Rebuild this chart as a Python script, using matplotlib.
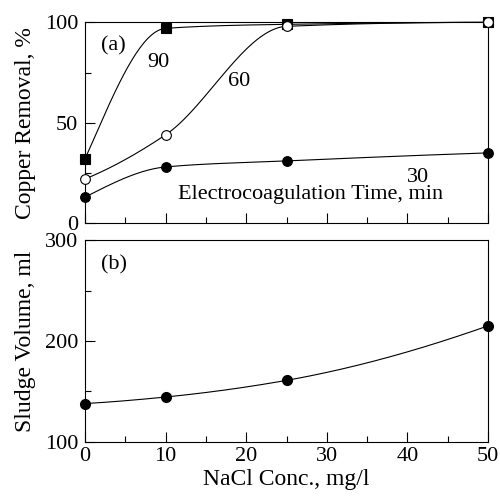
import numpy as np
import matplotlib
matplotlib.use("Agg")
import matplotlib.pyplot as plt
from matplotlib.ticker import MultipleLocator

plt.rcParams["font.family"] = ["Liberation Serif", "DejaVu Serif"]

# ── data ──────────────────────────────────────────────────
nacl = [0, 10, 25, 50]
cu_90 = [32, 97, 99, 100]
cu_60 = [22, 44, 98, 100]
cu_30 = [13, 28, 31, 35]
sludge = [138, 144.5, 161, 215]


def smooth(xs, ys, n=200):
    """monotone cubic (PCHIP) curve through the points"""
    xs = np.asarray(xs, float); ys = np.asarray(ys, float)
    h = np.diff(xs); dlt = np.diff(ys) / h
    m = np.zeros_like(ys)
    for i in range(1, len(xs) - 1):
        if dlt[i - 1] * dlt[i] > 0:
            w1 = 2 * h[i] + h[i - 1]; w2 = h[i] + 2 * h[i - 1]
            m[i] = (w1 + w2) / (w1 / dlt[i - 1] + w2 / dlt[i])
    m[0] = ((2 * h[0] + h[1]) * dlt[0] - h[0] * dlt[1]) / (h[0] + h[1])
    if np.sign(m[0]) != np.sign(dlt[0]):
        m[0] = 0
    m[-1] = ((2 * h[-1] + h[-2]) * dlt[-1] - h[-1] * dlt[-2]) / (h[-1] + h[-2])
    if np.sign(m[-1]) != np.sign(dlt[-1]):
        m[-1] = 0
    xx = np.linspace(xs[0], xs[-1], n)
    yy = np.empty_like(xx)
    for j, x in enumerate(xx):
        i = min(np.searchsorted(xs, x, side="right") - 1, len(xs) - 2)
        t = (x - xs[i]) / h[i]
        h00 = 2 * t**3 - 3 * t**2 + 1; h10 = t**3 - 2 * t**2 + t
        h01 = -2 * t**3 + 3 * t**2; h11 = t**3 - t**2
        yy[j] = h00 * ys[i] + h10 * h[i] * m[i] + h01 * ys[i + 1] + h11 * h[i] * m[i + 1]
    return xx, yy


fig = plt.figure(figsize=(5.0, 4.96), dpi=100)
ax1 = fig.add_axes([0.17, 0.550, 0.806, 0.405])
ax2 = fig.add_axes([0.17, 0.109, 0.806, 0.407])

lw = 0.8
for ys, mk, fc in [(cu_90, "s", "black"), (cu_60, "o", "white"), (cu_30, "o", "black")]:
    xx, yy = smooth(nacl, ys)
    ax1.plot(xx, yy, color="black", lw=lw, clip_on=False)
    ax1.plot(nacl, ys, ls="none", marker=mk, ms=7.5 if mk == "s" else 7,
             mfc=fc, mec="black", mew=0.8, clip_on=False, zorder=5)

xx, yy = smooth(nacl, sludge)
ax2.plot(xx, yy, color="black", lw=lw)
ax2.plot(nacl, sludge, ls="none", marker="o", ms=7, mfc="black", mec="black",
         clip_on=False, zorder=5)

ax1.set_xlim(0, 50); ax1.set_ylim(0, 100)
ax2.set_xlim(0, 50); ax2.set_ylim(100, 300)

for ax in (ax1, ax2):
    ax.xaxis.set_major_locator(MultipleLocator(10))
    ax.xaxis.set_minor_locator(MultipleLocator(5))
    ax.tick_params(which="both", direction="in", labelsize=16, width=0.8)
    ax.tick_params(which="major", length=7)
    ax.tick_params(which="minor", length=4)
    ax.tick_params(axis="y", pad=5)
    ax.tick_params(axis="x", pad=4)
    for s in ax.spines.values():
        s.set_linewidth(0.8)

ax1.yaxis.set_major_locator(MultipleLocator(50))
ax1.yaxis.set_minor_locator(MultipleLocator(25))
ax1.tick_params(axis="x", labelbottom=False)
ax2.yaxis.set_major_locator(MultipleLocator(100))
ax2.yaxis.set_minor_locator(MultipleLocator(50))

ax1.set_ylabel("Copper Removal, %", fontsize=17, labelpad=6)
ax2.set_ylabel("Sludge Volume, ml", fontsize=17, labelpad=6)
ax2.set_xlabel("NaCl Conc., mg/l", fontsize=17, labelpad=2)

ax1.text(2.0, 86, "(a)", fontsize=16)
ax1.text(7.7, 78, "90", fontsize=16)
ax1.text(17.8, 68.5, "60", fontsize=16)
ax1.text(39.9, 20.5, "30", fontsize=16)
ax1.text(11.5, 12, "Electrocoagulation Time, min", fontsize=16)
ax2.text(2.0, 271, "(b)", fontsize=16)

fig.savefig("out.png", dpi=100)
